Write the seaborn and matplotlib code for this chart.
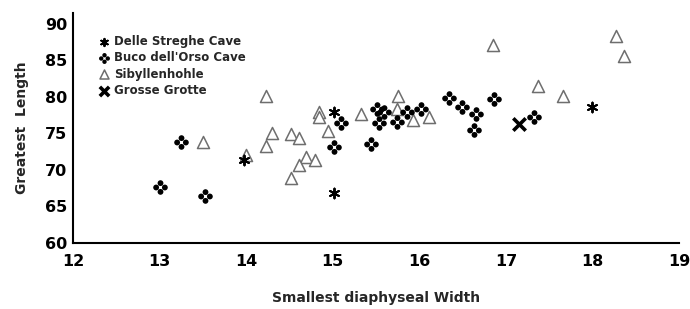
import numpy as np
import matplotlib
matplotlib.use("Agg")
import matplotlib.pyplot as plt
from matplotlib.path import Path
import seaborn as sns

# Data
delle_x = [13.97, 15.02, 15.01, 18.0]
delle_y = [71.4, 78.0, 66.9, 78.6]

buco_x = [13.25, 13.0, 13.52, 15.01, 15.1, 15.44, 15.51, 15.59, 15.53, 15.74,
          15.86, 16.02, 16.34, 16.49, 16.65, 16.63, 16.86, 17.32]
buco_y = [73.8, 67.7, 66.5, 73.2, 76.5, 73.5, 78.3, 78.0, 76.5, 76.6,
          78.0, 78.3, 79.9, 78.6, 77.7, 75.5, 79.7, 77.2]

sib_x = [13.5, 14.23, 14.3, 14.23, 14.52, 14.61, 14.84, 14.84, 14.94, 15.33,
         14.0, 14.69, 14.61, 14.79, 14.52, 15.75, 15.74, 15.93, 16.11, 16.85,
         17.37, 17.66, 18.27, 18.37]
sib_y = [73.8, 80.1, 75.1, 73.3, 74.9, 74.4, 77.9, 77.2, 75.3, 77.6,
         72.1, 71.8, 70.7, 71.3, 68.9, 80.2, 78.4, 76.8, 77.3, 87.1,
         81.5, 80.2, 88.3, 85.6]

grosse_x = [17.15]
grosse_y = [76.3]

x_ticks = [12, 13, 14, 15, 16, 17, 18, 19]
y_ticks = [60, 65, 70, 75, 80, 85, 90]

sns.set_style("white")
plt.rcParams['font.family'] = ['DejaVu Sans']

# four-dot "clover" marker
dots = [Path.circle((0, 0.6), 0.4), Path.circle((0.6, 0), 0.4),
        Path.circle((0, -0.6), 0.4), Path.circle((-0.6, 0), 0.4)]
clover = Path.make_compound_path(*dots)

fig = plt.figure(figsize=(6.9, 3.09), dpi=100)
ax = fig.add_axes([73 / 690, 1 - 243 / 309, 606 / 690, 230 / 309])

# triangles first so the black marks sit on top
sns.scatterplot(x=sib_x, y=sib_y, ax=ax, marker='^', s=75,
                facecolor='white', edgecolor='#6e6e6e', linewidth=1.1,
                label='Sibyllenhohle', zorder=2)
sns.scatterplot(x=delle_x, y=delle_y, ax=ax, marker=(6, 2, 0), s=50,
                color='black', linewidth=1.4, label='Delle Streghe Cave', zorder=3)
sns.scatterplot(x=buco_x, y=buco_y, ax=ax, marker=clover, s=110,
                color='black', linewidth=0, label="Buco dell'Orso Cave", zorder=3)
sns.scatterplot(x=grosse_x, y=grosse_y, ax=ax, marker='x', s=80,
                color='black', linewidth=2.6, label='Grosse Grotte', zorder=3)

ax.set_xlim(12, 19)
ax.set_ylim(60, 91.5)
ax.set_xticks(x_ticks)
ax.set_yticks(y_ticks)
ax.tick_params(direction='in', length=6, width=1.3, colors='black',
               labelsize=11.5)
ax.tick_params(axis='x', pad=8)
ax.tick_params(axis='y', pad=4)
for lab in ax.get_xticklabels() + ax.get_yticklabels():
    lab.set_fontweight('bold')

sns.despine(ax=ax)
for side in ['left', 'bottom']:
    ax.spines[side].set_linewidth(1.5)
    ax.spines[side].set_color('black')

ax.set_xlabel('Smallest diaphyseal Width', fontsize=10, fontweight='bold', labelpad=16)
ax.set_ylabel('Greatest  Length', fontsize=10, fontweight='bold', labelpad=12)

handles, labels = ax.get_legend_handles_labels()
order = ['Delle Streghe Cave', "Buco dell'Orso Cave", 'Sibyllenhohle', 'Grosse Grotte']
hmap = dict(zip(labels, handles))
leg = ax.legend([hmap[k] for k in order], order, loc='upper left',
                bbox_to_anchor=(0.035, 0.925), frameon=False,
                prop={'size': 8.5, 'weight': 'bold'}, handlelength=0.8,
                handletextpad=0.5, labelspacing=0.28, markerscale=0.75,
                borderaxespad=0)

plt.savefig('out.png', dpi=100)
